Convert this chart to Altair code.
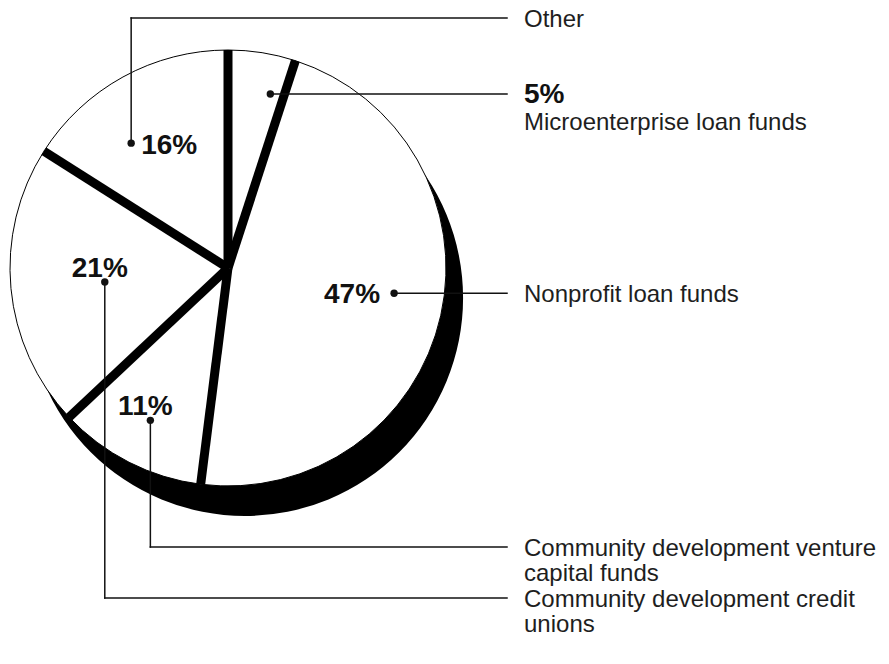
import math
import pandas as pd
import altair as alt

# ---------------- data ----------------
categories = [
    "Microenterprise loan funds",
    "Nonprofit loan funds",
    "Community development venture capital funds",
    "Community development credit unions",
    "Other",
]
shares = [5, 47, 11, 21, 16]
pct_labels = ["5%", "47%", "11%", "21%", "16%"]
label_lines = [
    ["Microenterprise loan funds"],
    ["Nonprofit loan funds"],
    ["Community development venture", "capital funds"],
    ["Community development credit", "unions"],
    ["Other"],
]

# ---------------- layout (page pixels) ----------------
W, H = 873, 648
OFF = 8                      # page margin
CX, CY, R = 228, 268, 218    # pie centre / radius
SH_DX, SH_DY = 17, 30        # shadow offset
dot_angle_pct = [3.8, 27.4, 57.5, 73.2, 89.5]   # where the dots sit (in % of circle)
dot_radius = [179, 168, 171, 124, 158]
elbow_row = [None, None, 547, 598, 18]           # None -> straight horizontal leader
LEADER_END_X = 507
TEXT_X = 524
FONT = "Liberation Sans"
INK = "#111111"
TEXT_INK = "#1e1e1e"

# ---------------- derived tables ----------------
cum = [0]
for s in shares:
    cum.append(cum[-1] + s)
slices = pd.DataFrame({"cat": categories, "start": cum[:-1], "end": cum[1:]})

def polar(pct, r):
    a = pct / 100 * 2 * math.pi
    return CX + r * math.sin(a), CY - r * math.cos(a)

sep_rows = []
for b in cum[:-1]:
    x2, y2 = polar(b, R)
    sep_rows.append({"x": CX, "y": CY, "x2": x2, "y2": y2})
seps = pd.DataFrame(sep_rows)

dots, leaders, rtext, ptext = [], [], [], []
for i, cat in enumerate(categories):
    dx, dy = polar(dot_angle_pct[i], dot_radius[i])
    dots.append({"x": dx, "y": dy})
    row = elbow_row[i]
    if row is None:
        row = dy
        leaders.append({"x": dx, "y": dy, "x2": LEADER_END_X, "y2": row})
    else:
        leaders.append({"x": dx, "y": dy, "x2": dx, "y2": row})
        leaders.append({"x": dx, "y": row, "x2": LEADER_END_X, "y2": row})
    base = row + 9
    if i == 0:
        rtext.append({"x": TEXT_X, "y": base, "t": pct_labels[i], "bold": 1})
        base += 27
    for k, line in enumerate(label_lines[i]):
        rtext.append({"x": TEXT_X, "y": base + 25 * k, "t": line, "bold": 0})
    if i == 1:
        ptext.append({"x": dx - 14, "y": dy + 10, "t": pct_labels[i], "al": "right"})
    elif i == 4:
        ptext.append({"x": dx + 10, "y": dy + 11, "t": pct_labels[i], "al": "left"})
    elif i in (2, 3):
        ptext.append({"x": dx - 5, "y": dy - 5, "t": pct_labels[i], "al": "center"})

dots = pd.DataFrame(dots)
leaders = pd.DataFrame(leaders)
rtext = pd.DataFrame(rtext)
ptext = pd.DataFrame(ptext)

xs = alt.Scale(domain=[OFF, OFF + W], range=[0, W], nice=False, zero=False)
ys = alt.Scale(domain=[OFF, OFF + H], range=[0, H], nice=False, zero=False)
X = lambda f: alt.X(f, type="quantitative", scale=xs, axis=None)
Y = lambda f: alt.Y(f, type="quantitative", scale=ys, axis=None)

shadow = alt.Chart(pd.DataFrame({"k": [0]})).mark_arc(
    theta=0, theta2=2 * math.pi, radius=R, color="black"
).encode(x=alt.value(CX + SH_DX - OFF), y=alt.value(CY + SH_DY - OFF))

pie = alt.Chart(slices).mark_arc(
    radius=R, fill="white", stroke="black", strokeWidth=1
).encode(
    theta=alt.Theta("start:Q", scale=alt.Scale(domain=[0, 100], range=[0, 2 * math.pi]), stack=None),
    theta2="end:Q",
    x=alt.value(CX - OFF),
    y=alt.value(CY - OFF),
)

separators = alt.Chart(seps).mark_rule(color="black", strokeWidth=9, strokeCap="butt").encode(
    x=X("x"), y=Y("y"), x2="x2", y2="y2"
)

leader_lines = alt.Chart(leaders).mark_rule(color=INK, strokeWidth=1.5, strokeCap="square").encode(
    x=X("x"), y=Y("y"), x2="x2", y2="y2"
)

dot_marks = alt.Chart(dots).mark_point(filled=True, size=55, color=INK, opacity=1, shape="circle").encode(
    x=X("x"), y=Y("y")
)

right_regular = alt.Chart(rtext[rtext.bold == 0]).mark_text(
    align="left", baseline="alphabetic", font=FONT, fontSize=24, color=TEXT_INK
).encode(x=X("x"), y=Y("y"), text="t:N")

right_bold = alt.Chart(rtext[rtext.bold == 1]).mark_text(
    align="left", baseline="alphabetic", font=FONT, fontSize=28, fontWeight="bold", color=INK
).encode(x=X("x"), y=Y("y"), text="t:N")

def pct_layer(al):
    return alt.Chart(ptext[ptext.al == al]).mark_text(
        align=al, baseline="alphabetic", font=FONT, fontSize=28, fontWeight="bold", color=INK
    ).encode(x=X("x"), y=Y("y"), text="t:N")

chart = alt.layer(
    shadow, pie, separators, leader_lines, dot_marks,
    right_regular, right_bold,
    pct_layer("left"), pct_layer("right"), pct_layer("center"),
).properties(width=W, height=H, padding=0).configure_view(stroke=None)

chart.save("out.html", embed_options={"renderer": "svg", "actions": False})
